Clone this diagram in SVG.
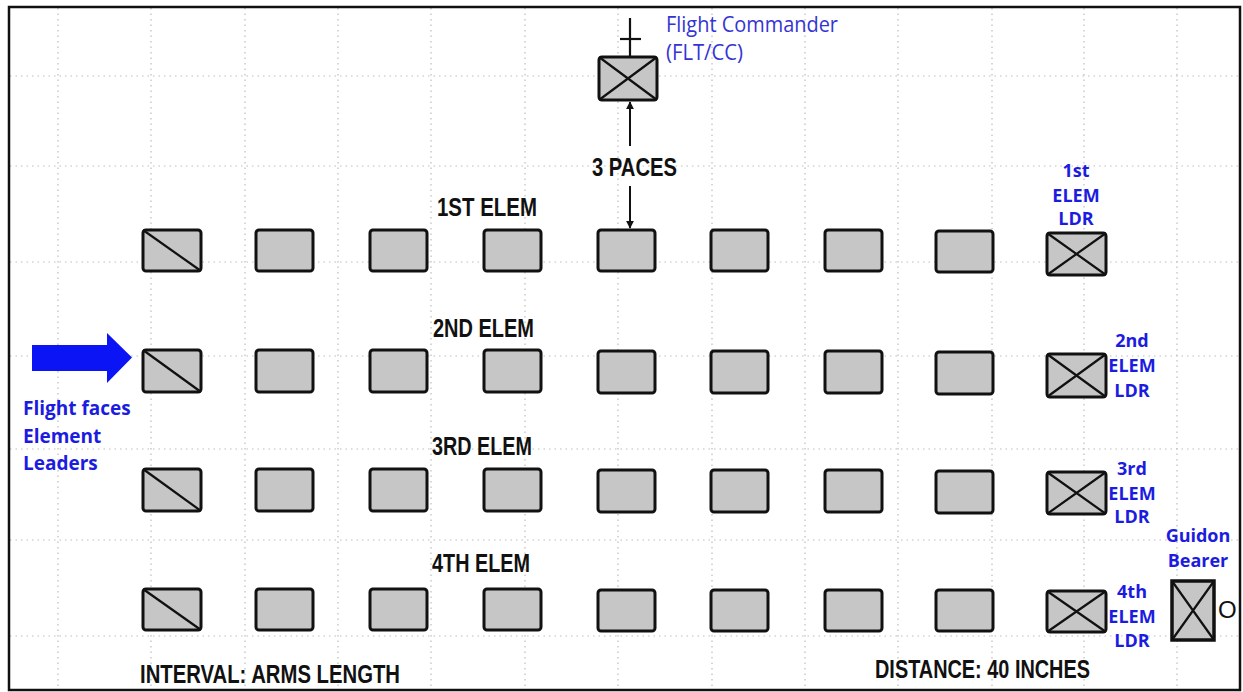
<svg xmlns="http://www.w3.org/2000/svg" width="1243" height="692" viewBox="0 0 1243 692">
<style>
.grid{stroke:#bdbdbd;stroke-width:1.2;stroke-dasharray:1.5 4;fill:none}
.box{fill:#c6c6c6;stroke:#111;stroke-width:3}
.x{stroke:#111;stroke-width:2.2;fill:none}
.lbl{font-family:"Liberation Sans",Arial,sans-serif;font-weight:bold;font-size:26px;fill:#111}
.blue{font-family:"Open Sans","Noto Sans",sans-serif;font-weight:bold;font-size:18px;fill:#1c1ce0;text-anchor:middle}
.conn{stroke:#111;stroke-width:2;fill:none}
</style>
<defs>
<marker id="ah" viewBox="0 0 10 10" refX="9" refY="5" markerWidth="8" markerHeight="9" markerUnits="userSpaceOnUse" orient="auto">
<path d="M0,0 L10,5 L0,10 z" fill="#111"/>
</marker>
</defs>
<rect x="0" y="0" width="1243" height="692" fill="#fff"/>
<g id="grid">
<path class="grid" d="M10,76H1240M10,166H1240M10,262H1240M10,356H1240M10,449H1240M10,540H1240M10,636H1240"/>
<path class="grid" d="M58,8V690M151,8V690M245,8V690M338,8V690M431,8V690M525,8V690M618,8V690M712,8V690M805,8V690M898,8V690M992,8V690M1084,8V690M1177,8V690"/>
</g>
<rect x="9" y="7" width="1231" height="683" fill="none" stroke="#111" stroke-width="2.5"/>

<g id="flight-commander">
<path class="x" d="M630,18V57" stroke-width="2.5"/>
<path class="x" d="M620,39H641" stroke-width="3.5"/>
<rect class="box" x="599" y="57" width="58" height="43" rx="3"/>
<path class="x" d="M599,57L657,100M657,57L599,100"/>
<text x="666" y="32" font-family="'Open Sans','Noto Sans',sans-serif" font-size="21" fill="#3434d4" textLength="172" lengthAdjust="spacingAndGlyphs">Flight Commander</text>
<text x="666" y="60" font-family="'Open Sans','Noto Sans',sans-serif" font-size="21" fill="#3434d4" textLength="77" lengthAdjust="spacingAndGlyphs">(FLT/CC)</text>
</g>

<g id="connectors">
<line class="conn" x1="630" y1="146" x2="630" y2="102" marker-end="url(#ah)"/>
<line class="conn" x1="630" y1="186" x2="630" y2="228" marker-end="url(#ah)"/>
</g>
<text class="lbl" x="592" y="176" textLength="85" lengthAdjust="spacingAndGlyphs">3 PACES</text>

<g id="elem1">
<text class="lbl" x="437" y="216" textLength="100" lengthAdjust="spacingAndGlyphs">1ST ELEM</text>
<rect class="box" x="143" y="230" width="58" height="41" rx="3"/><path class="x" d="M143,230L201,271"/>
<rect class="box" x="256" y="230" width="57" height="41" rx="3"/>
<rect class="box" x="370" y="230" width="57" height="41" rx="3"/>
<rect class="box" x="484" y="230" width="57" height="41" rx="3"/>
<rect class="box" x="598" y="230" width="57" height="41" rx="3"/>
<rect class="box" x="711" y="230" width="57" height="41" rx="3"/>
<rect class="box" x="825" y="230" width="57" height="41" rx="3"/>
<rect class="box" x="936" y="231" width="57" height="41" rx="3"/>
<rect class="box" x="1047" y="233" width="59" height="42" rx="3"/><path class="x" d="M1047,233L1106,275M1106,233L1047,275"/>
<text class="blue" x="1076" y="177">1st</text>
<text class="blue" x="1076" y="202">ELEM</text>
<text class="blue" x="1076" y="225">LDR</text>
</g>

<g id="elem2">
<text class="lbl" x="433" y="337" textLength="101" lengthAdjust="spacingAndGlyphs">2ND ELEM</text>
<rect class="box" x="143" y="350" width="58" height="42" rx="3"/><path class="x" d="M143,350L201,392"/>
<rect class="box" x="256" y="350" width="57" height="42" rx="3"/>
<rect class="box" x="370" y="350" width="57" height="42" rx="3"/>
<rect class="box" x="484" y="350" width="57" height="42" rx="3"/>
<rect class="box" x="598" y="351" width="57" height="42" rx="3"/>
<rect class="box" x="711" y="351" width="57" height="42" rx="3"/>
<rect class="box" x="825" y="351" width="57" height="42" rx="3"/>
<rect class="box" x="936" y="352" width="57" height="42" rx="3"/>
<rect class="box" x="1047" y="354" width="59" height="43" rx="3"/><path class="x" d="M1047,354L1106,397M1106,354L1047,397"/>
<text class="blue" x="1132" y="347">2nd</text>
<text class="blue" x="1132" y="372">ELEM</text>
<text class="blue" x="1132" y="397">LDR</text>
</g>

<g id="elem3">
<text class="lbl" x="432" y="455" textLength="100" lengthAdjust="spacingAndGlyphs">3RD ELEM</text>
<rect class="box" x="143" y="469" width="58" height="42" rx="3"/><path class="x" d="M143,469L201,511"/>
<rect class="box" x="256" y="469" width="57" height="42" rx="3"/>
<rect class="box" x="370" y="469" width="57" height="42" rx="3"/>
<rect class="box" x="484" y="469" width="57" height="42" rx="3"/>
<rect class="box" x="598" y="470" width="57" height="42" rx="3"/>
<rect class="box" x="711" y="470" width="57" height="42" rx="3"/>
<rect class="box" x="825" y="470" width="57" height="42" rx="3"/>
<rect class="box" x="936" y="471" width="57" height="42" rx="3"/>
<rect class="box" x="1047" y="472" width="59" height="42" rx="3"/><path class="x" d="M1047,472L1106,514M1106,472L1047,514"/>
<text class="blue" x="1132" y="475">3rd</text>
<text class="blue" x="1132" y="500">ELEM</text>
<text class="blue" x="1132" y="523">LDR</text>
</g>

<g id="elem4">
<text class="lbl" x="432" y="572" textLength="98" lengthAdjust="spacingAndGlyphs">4TH ELEM</text>
<rect class="box" x="143" y="589" width="58" height="41" rx="3"/><path class="x" d="M143,589L201,630"/>
<rect class="box" x="256" y="589" width="57" height="41" rx="3"/>
<rect class="box" x="370" y="589" width="57" height="41" rx="3"/>
<rect class="box" x="484" y="589" width="57" height="41" rx="3"/>
<rect class="box" x="598" y="590" width="57" height="41" rx="3"/>
<rect class="box" x="711" y="590" width="57" height="41" rx="3"/>
<rect class="box" x="825" y="590" width="57" height="41" rx="3"/>
<rect class="box" x="936" y="590" width="57" height="41" rx="3"/>
<rect class="box" x="1047" y="591" width="59" height="41" rx="3"/><path class="x" d="M1047,591L1106,632M1106,591L1047,632"/>
<text class="blue" x="1132" y="598">4th</text>
<text class="blue" x="1132" y="623">ELEM</text>
<text class="blue" x="1132" y="647">LDR</text>
</g>

<g id="guidon-bearer">
<text class="blue" x="1198" y="542">Guidon</text>
<text class="blue" x="1198" y="567">Bearer</text>
<rect x="1172" y="581" width="42" height="59" fill="#c6c6c6" stroke="#111" stroke-width="3.5"/>
<path class="x" d="M1172,581L1214,640M1214,581L1172,640" stroke-width="1.8"/>
<text x="1218" y="618" font-family="'Liberation Sans',Arial,sans-serif" font-size="24" fill="#111">O</text>
</g>

<g id="facing-arrow">
<path d="M32,345H107V333L132,357.5L107,383V371H32Z" fill="#0a14f5"/>
<text x="23" y="415" font-family="'Open Sans','Noto Sans',sans-serif" font-weight="bold" font-size="19" fill="#1c1ce0">Flight faces</text>
<text x="23" y="443" font-family="'Open Sans','Noto Sans',sans-serif" font-weight="bold" font-size="19" fill="#1c1ce0">Element</text>
<text x="23" y="470" font-family="'Open Sans','Noto Sans',sans-serif" font-weight="bold" font-size="19" fill="#1c1ce0">Leaders</text>
</g>

<text class="lbl" x="140" y="683" textLength="260" lengthAdjust="spacingAndGlyphs">INTERVAL: ARMS LENGTH</text>
<text class="lbl" x="875" y="678" textLength="215" lengthAdjust="spacingAndGlyphs">DISTANCE: 40 INCHES</text>
</svg>
